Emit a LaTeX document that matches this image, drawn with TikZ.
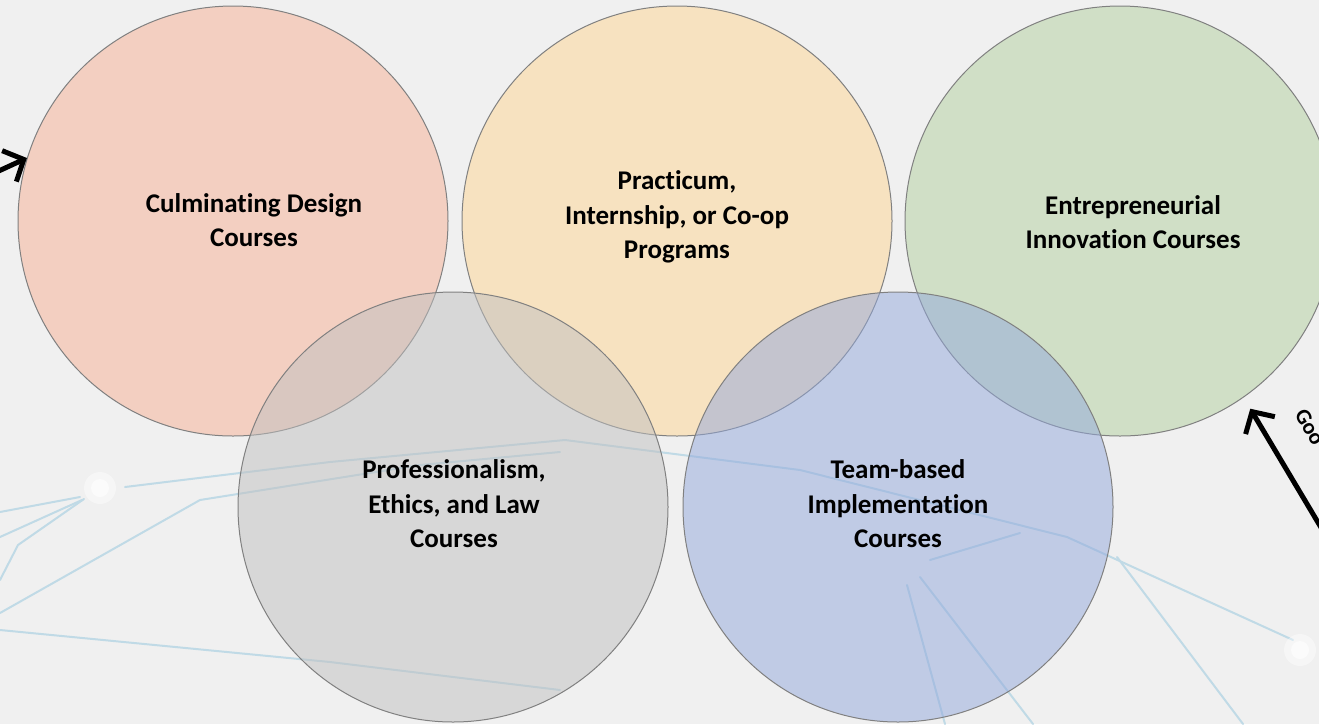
\documentclass[tikz,border=0pt]{standalone}
\usepackage{fontspec}
\setmainfont{Carlito}[BoldFont={Carlito Bold},Ligatures=NoCommon]
\usetikzlibrary{arrows.meta}
\definecolor{bgcol}{RGB}{240,240,240}
\definecolor{redc}{RGB}{246,176,148}
\definecolor{yelc}{RGB}{255,214,146}
\definecolor{grnc}{RGB}{178,208,158}
\definecolor{gryc}{RGB}{192,192,192}
\definecolor{bluc}{RGB}{146,168,220}
\definecolor{netc}{RGB}{192,218,230}
\definecolor{rimc}{RGB}{128,128,128}
\begin{document}
\begin{tikzpicture}[x=1pt,y=-1pt,
    course/.style={circle,draw=rimc,line width=1pt,fill opacity=0.5,minimum size=430pt,inner sep=0pt},
    coursetext/.style={align=center,font=\bfseries\fontsize{27}{34.5}\selectfont,text=black,inner sep=0pt},
    net/.style={netc,line width=2pt,line cap=round},
    pointer/.style={-{Straight Barb[length=16pt,width=34pt]},line width=5pt}]
        \def\w{1319} \def\h{724}
        \useasboundingbox (0,0) rectangle (\w,\h);
        \clip (0,0) rectangle (\w,\h);
        \fill[bgcol] (0,0) rectangle (\w,\h);

        % network in the background
        \draw[net] (0,512) -- (80,497);
        \draw[net] (0,537) -- (82,500);
        \draw[net] (0,580) -- (18,545) -- (84,499);
        \draw[net] (0,613) -- (200,500) -- (420,465) -- (560,452);
        \draw[net] (125,487) -- (330,462) -- (565,440);
        \draw[net] (0,630) -- (330,662) -- (560,690);
        \draw[net] (565,440) -- (800,470) -- (1067,537);
        \draw[net] (1067,537) -- (1293,640);
        \draw[net] (1117,557) -- (1243,724);
        \draw[net] (930,560) -- (1020,533);
        \draw[net] (920,577) -- (1033,724);
        \draw[net] (907,585) -- (945,724);
        \fill[white,opacity=0.4] (100,488) circle (16pt);
        \fill[white,opacity=0.6] (100,488) circle (9pt);
        \fill[white,opacity=0.4] (1300,650) circle (16pt);
        \fill[white,opacity=0.6] (1300,650) circle (9pt);

        \node (culm) at (233,221) [course,fill=redc] {};
        \node (prac) at (677,221) [course,fill=yelc] {};
        \node (entr) at (1120,221) [course,fill=grnc] {};
        \node (prof) at (453,507) [course,fill=gryc] {};
        \node (team) at (898,507) [course,fill=bluc] {};

        \node (culmtext) at (254,220) [coursetext] {Culminating Design\\Courses};
        \node (practext) at (677,217) [coursetext] {Practicum,\\Internship, or Co-op\\Programs};
        \node (entrtext) at (1133,222) [coursetext] {Entrepreneurial\\Innovation Courses};
        \node (proftext) at (454,504) [coursetext] {Professionalism,\\Ethics, and Law\\Courses};
        \node (teamtext) at (898,504) [coursetext] {Team-based\\Implementation\\Courses};

        \coordinate (lfoot) at (-10,175);
        \coordinate (rfoot) at (1335,551);
        \draw[pointer] (lfoot) -- (culm.163);
        \draw[pointer,shorten >=13pt] (rfoot) -- (entr.305);
        \node (gotext) at (1294,414) [rotate=-60,anchor=base west,inner sep=0pt,font=\bfseries\fontsize{22}{26}\selectfont] {Goo};
\end{tikzpicture}
\end{document}
